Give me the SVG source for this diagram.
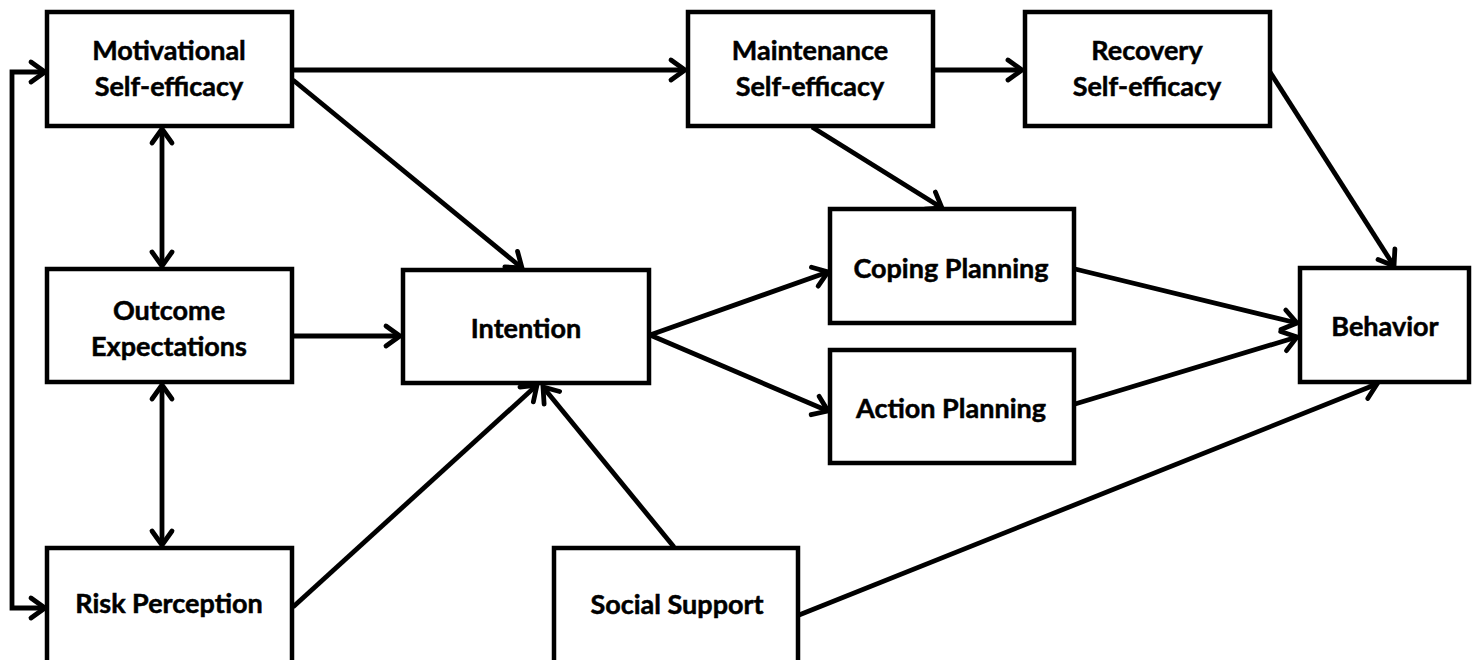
<svg xmlns="http://www.w3.org/2000/svg" width="1477" height="660" viewBox="0 0 1477 660">
<style>
.box{fill:#fff;stroke:#000;stroke-width:4.5}
.lbl{font-family:Lato,"Open Sans","Liberation Sans",sans-serif;font-weight:bold;font-size:27px;fill:#000;text-anchor:middle;stroke:#000;stroke-width:0.5}
.c{fill:none;stroke:#000;stroke-width:4.8}
</style>
<defs>
<marker id="ah" markerUnits="userSpaceOnUse" markerWidth="30" markerHeight="30" refX="20" refY="15" orient="auto-start-reverse" viewBox="0 0 30 30">
<path d="M6,5 L20,15 L6,25" fill="none" stroke="#000" stroke-width="4.8" stroke-linecap="round" stroke-linejoin="miter"/>
</marker>
</defs>
<g id="connectors">
<path class="c" d="M45,608 H12 V72 H45" marker-start="url(#ah)" marker-end="url(#ah)"/>
<line class="c" x1="162" y1="129" x2="162" y2="266" marker-start="url(#ah)" marker-end="url(#ah)"/>
<line class="c" x1="162" y1="385" x2="162" y2="545" marker-start="url(#ah)" marker-end="url(#ah)"/>
<line class="c" x1="293" y1="336" x2="400" y2="336" marker-end="url(#ah)"/>
<line class="c" x1="293" y1="80" x2="522" y2="268" marker-end="url(#ah)"/>
<line class="c" x1="293" y1="607" x2="537" y2="385" marker-end="url(#ah)"/>
<line class="c" x1="674" y1="547" x2="543" y2="387" marker-end="url(#ah)"/>
<line class="c" x1="799" y1="615" x2="1377" y2="384" marker-end="url(#ah)"/>
<line class="c" x1="293" y1="70" x2="685" y2="70" marker-end="url(#ah)"/>
<line class="c" x1="933" y1="70" x2="1022" y2="70" marker-end="url(#ah)"/>
<line class="c" x1="812" y1="127" x2="942" y2="208" marker-end="url(#ah)"/>
<line class="c" x1="1270" y1="72" x2="1394" y2="266" marker-end="url(#ah)"/>
<line class="c" x1="650" y1="335" x2="828" y2="272" marker-end="url(#ah)"/>
<line class="c" x1="650" y1="335" x2="828" y2="411" marker-end="url(#ah)"/>
<line class="c" x1="1075" y1="269" x2="1297" y2="323" marker-end="url(#ah)"/>
<line class="c" x1="1075" y1="404" x2="1297" y2="337" marker-end="url(#ah)"/>
</g>
<g id="motivational"><rect class="box" x="47" y="12" width="245" height="114"/><text class="lbl" x="169" y="60">Motivational</text><text class="lbl" x="169" y="96">Self-efficacy</text></g>
<g id="outcome"><rect class="box" x="47" y="269" width="245" height="113"/><text class="lbl" x="169" y="320">Outcome</text><text class="lbl" x="169" y="356">Expectations</text></g>
<g id="risk"><rect class="box" x="47" y="548" width="245" height="130"/><text class="lbl" x="169" y="613">Risk Perception</text></g>
<g id="intention"><rect class="box" x="403" y="270" width="246" height="113"/><text class="lbl" x="526" y="338">Intention</text></g>
<g id="maintenance"><rect class="box" x="688" y="12" width="245" height="114"/><text class="lbl" x="810" y="60">Maintenance</text><text class="lbl" x="810" y="96">Self-efficacy</text></g>
<g id="recovery"><rect class="box" x="1025" y="12" width="245" height="114"/><text class="lbl" x="1147" y="60">Recovery</text><text class="lbl" x="1147" y="96">Self-efficacy</text></g>
<g id="coping"><rect class="box" x="830" y="209" width="244" height="114"/><text class="lbl" x="951" y="278">Coping Planning</text></g>
<g id="action"><rect class="box" x="830" y="350" width="244" height="113"/><text class="lbl" x="951" y="418">Action Planning</text></g>
<g id="behavior"><rect class="box" x="1300" y="268" width="169" height="114"/><text class="lbl" x="1385" y="336">Behavior</text></g>
<g id="social"><rect class="box" x="554" y="548" width="244" height="130"/><text class="lbl" x="677" y="614">Social Support</text></g>
</svg>
